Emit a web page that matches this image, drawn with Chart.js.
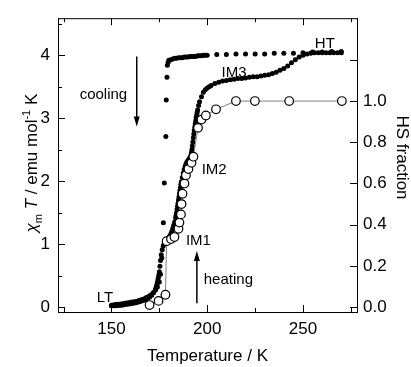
<!DOCTYPE html>
<html>
<head>
<meta charset="utf-8">
<script src="https://cdn.jsdelivr.net/npm/chart.js@4.4.0/dist/chart.umd.min.js"></script>
<style>
  html, body { margin: 0; padding: 0; background: #fff; }
</style>
</head>
<body>
<canvas id="chart" width="411" height="367"></canvas>
<script>
(() => {

/* ---------- DATA ---------- */

// heating branch, chi_m*T (filled dots)
const heatT = [
  150, 151, 152, 153, 154, 155, 156, 157, 158, 159,
  160, 161, 162, 163, 164, 165, 166, 167, 168, 169,
  170, 171, 172, 173, 173.25, 173.5, 173.75, 174, 174.25, 174.5, 174.75, 175, 175.3, 175.6,
  176, 176.5, 177, 177.5, 178, 178.5, 179, 179.5, 180, 180.5,
  181, 181.5, 182, 182.5, 183, 183.5, 183.75, 184, 184.25, 184.5, 184.75, 185, 185.25, 185.5, 185.75,
  186, 186.25, 186.5, 187, 187.5, 188, 188.5, 189, 189.5, 190, 190.5,
  191, 191.5, 191.75, 192, 192.25, 192.5, 192.75, 193, 193.25, 193.5, 193.75, 194, 194.25, 194.5, 194.75, 195, 195.5,
  196, 197, 198, 199, 200, 201, 202, 204, 206, 208,
  210, 212, 214, 216, 218, 220, 222, 224, 226, 228,
  230, 232, 234, 236, 238, 240, 242, 244, 246, 248,
  250, 252, 254, 256, 258, 260, 262, 264, 266, 268, 270
];
const heatChi = [
  0.02, 0.02, 0.02, 0.025, 0.03, 0.03, 0.035, 0.04, 0.045, 0.05,
  0.055, 0.06, 0.065, 0.07, 0.08, 0.09, 0.10, 0.11, 0.12, 0.14,
  0.16, 0.19, 0.23, 0.28, 0.30, 0.33, 0.36, 0.39, 0.43, 0.47, 0.51, 0.56, 0.65, 0.74,
  0.83, 0.91, 0.97, 1.00, 1.03, 1.05, 1.07, 1.09, 1.11, 1.13,
  1.16, 1.20, 1.25, 1.30, 1.35, 1.42, 1.46, 1.50, 1.55, 1.60, 1.65, 1.70, 1.75, 1.80, 1.85,
  1.90, 1.95, 1.99, 2.06, 2.13, 2.19, 2.24, 2.28, 2.31, 2.33, 2.35,
  2.37, 2.41, 2.45, 2.50, 2.56, 2.62, 2.69, 2.75, 2.81, 2.86, 2.91, 2.96, 3.01, 3.05, 3.09, 3.13, 3.20,
  3.26, 3.34, 3.41, 3.45, 3.48, 3.50, 3.52, 3.55, 3.57, 3.59,
  3.60, 3.61, 3.62, 3.63, 3.63, 3.64, 3.65, 3.66, 3.66, 3.67,
  3.68, 3.69, 3.71, 3.73, 3.76, 3.79, 3.83, 3.88, 3.93, 3.97,
  4.00, 4.02, 4.03, 4.04, 4.04, 4.04, 4.04, 4.04, 4.04, 4.04, 4.04
];

// cooling branch, chi_m*T (filled dots)
const coolT = [
  270, 265, 260, 255, 250, 245, 240, 235, 230, 225, 220, 215, 210, 205,
  200, 199, 198, 197, 196, 195, 194, 193, 192, 191,
  190, 189, 188, 187, 186, 185, 184, 183, 182, 181,
  180, 179.6, 179.2, 179.0, 178.6, 178.4, 177.6, 177.1, 176.3, 175.6,
  175, 174, 173, 172, 171, 170, 169, 168, 167, 166,
  165, 164, 163, 162, 161, 160, 159, 158, 157, 156,
  155, 154, 153, 152, 151, 150
];
const coolChi = [
  4.06, 4.06, 4.05, 4.05, 4.04, 4.03, 4.03, 4.03, 4.02, 4.02, 4.02, 4.02, 4.01, 4.01,
  4.00, 4.00, 4.00, 3.99, 3.99, 3.99, 3.98, 3.98, 3.98, 3.98,
  3.97, 3.97, 3.97, 3.96, 3.96, 3.96, 3.95, 3.95, 3.94, 3.93,
  3.92, 3.89, 3.84, 3.65, 3.29, 2.71, 1.97, 1.34, 0.78, 0.52,
  0.40, 0.32, 0.27, 0.23, 0.20, 0.18, 0.16, 0.15, 0.13, 0.12,
  0.11, 0.10, 0.09, 0.085, 0.08, 0.075, 0.07, 0.065, 0.06, 0.055,
  0.05, 0.045, 0.04, 0.04, 0.035, 0.03
];

// HS fraction (open circles, right axis)
const hsT = [
  169.9, 174.6, 178.2, 178.8, 181.1, 182.9, 185.0, 185.5, 186.3, 186.6,
  187.1, 188.1, 188.9, 190.2, 191.8, 192.8, 195.2, 197.0, 199.3, 204.6,
  215.0, 224.9, 242.8, 270.3
];
const hsFrac = [
  0.01, 0.03, 0.06, 0.32, 0.33, 0.34, 0.38, 0.41, 0.45, 0.50,
  0.55, 0.60, 0.64, 0.67, 0.70, 0.73, 0.87, 0.91, 0.93, 0.96,
  1.0, 1.0, 1.0, 1.0
];

const xMajor = [150, 200, 250];
const xMinor = [125, 175, 225, 275];
const yMajor = [0, 1, 2, 3, 4];
const yMinor = [0.5, 1.5, 2.5, 3.5, 4.5];
const hsTicks = [0, 0.2, 0.4, 0.6, 0.8, 1.0];
const hsMarks = [0, 0.2, 0.4, 0.6, 0.8, 1.0, 1.2];

const HS_FULL = 3.272;           // chi_m*T that equals HS fraction 1.0
const X_MIN = 122.1, X_MAX = 278.2;
const Y_MIN = -0.078, Y_MAX = 4.588;

const FONT = '"Liberation Sans", Arial, Helvetica, sans-serif';

/* ---------- ANNOTATIONS ---------- */

const notes = [
  { text: "cooling", x: 133.4, y: 3.305 },
  { text: "heating", x: 198.2, y: 0.36 },
  { text: "IM1", x: 188.9, y: 0.994 },
  { text: "IM2", x: 197.1, y: 2.111 },
  { text: "IM3", x: 207.5, y: 3.66 },
  { text: "HT", x: 256.2, y: 4.11 },
  { text: "LT", x: 142.3, y: 0.086 }
];
const arrows = [
  { x: 163.2, from: 3.98, to: 2.87 },   // cooling, pointing down
  { x: 194.6, from: 0.06, to: 0.89 }    // heating, pointing up
];

const pts = (xs, ys) => xs.map((x, i) => ({ x, y: ys[i] }));

/* ---------- PLUGIN: frame, inward ticks, labels ---------- */

const decor = {
  id: "decor",
  afterDraw(chart) {
    const { ctx, chartArea: a, scales } = chart;
    const xs = scales.x, ys = scales.y, hs = scales.y2;
    ctx.save();
    ctx.strokeStyle = "#000";
    ctx.lineWidth = 1;

    // top frame line
    ctx.beginPath();
    ctx.moveTo(a.left, a.top + 0.5);
    ctx.lineTo(a.right, a.top + 0.5);
    ctx.stroke();

    const tick = (x1, y1, x2, y2) => {
      ctx.beginPath();
      ctx.moveTo(x1, y1);
      ctx.lineTo(x2, y2);
      ctx.stroke();
    };

    // x ticks, bottom and top, inward
    xMajor.concat(xMinor).forEach(v => {
      const len = xMajor.includes(v) ? 7 : 4;
      const px = Math.round(xs.getPixelForValue(v)) + 0.5;
      tick(px, a.bottom, px, a.bottom - len);
      tick(px, a.top, px, a.top + len);
    });

    // left y ticks
    yMajor.concat(yMinor).forEach(v => {
      const len = yMajor.includes(v) ? 7 : 4;
      const py = Math.round(ys.getPixelForValue(v)) + 0.5;
      tick(a.left, py, a.left + len, py);
    });

    // right HS ticks
    hsMarks.forEach(v => {
      const py = Math.round(hs.getPixelForValue(v)) + 0.5;
      tick(a.right, py, a.right - 7, py);
    });

    // arrows
    ctx.fillStyle = "#000";
    ctx.lineWidth = 1.5;
    arrows.forEach(ar => {
      const px = xs.getPixelForValue(ar.x);
      const y1 = ys.getPixelForValue(ar.from);
      const y2 = ys.getPixelForValue(ar.to);
      const dir = y2 > y1 ? 1 : -1;
      tick(px, y1, px, y2 - dir * 8);
      ctx.beginPath();
      ctx.moveTo(px, y2);
      ctx.lineTo(px - 3, y2 - dir * 10);
      ctx.lineTo(px + 3, y2 - dir * 10);
      ctx.closePath();
      ctx.fill();
    });

    // text labels inside the plot
    ctx.font = "15px " + FONT;
    ctx.textAlign = "left";
    ctx.textBaseline = "alphabetic";
    notes.forEach(n => {
      ctx.fillText(n.text, xs.getPixelForValue(n.x), ys.getPixelForValue(n.y));
    });

    // left axis title: chi_m T / emu mol^-1 K
    const parts = [
      { t: "\u03C7", style: "italic ", size: 17, dy: 0 },
      { t: "m", style: "", size: 11, dy: 5 },
      { t: " ", style: "", size: 17, dy: 0 },
      { t: "T", style: "italic ", size: 17, dy: 0 },
      { t: " / emu mol", style: "", size: 17, dy: 0 },
      { t: "-1", style: "", size: 11, dy: -7 },
      { t: " K", style: "", size: 17, dy: 0 }
    ];
    let total = 0;
    parts.forEach(p => {
      ctx.font = p.style + p.size + "px " + FONT;
      p.w = ctx.measureText(p.t).width;
      total += p.w;
    });
    ctx.save();
    ctx.translate(37, (a.top + a.bottom) / 2 - 2);
    ctx.rotate(-Math.PI / 2);
    let cx = -total / 2;
    parts.forEach(p => {
      ctx.font = p.style + p.size + "px " + FONT;
      ctx.fillText(p.t, cx, p.dy);
      cx += p.w;
    });
    ctx.restore();

    // right axis title
    ctx.save();
    ctx.font = "17px " + FONT;
    ctx.textAlign = "center";
    ctx.translate(397, 157.5);
    ctx.rotate(Math.PI / 2);
    ctx.fillText("HS fraction", 0, 0);
    ctx.restore();

    ctx.restore();
  }
};

/* ---------- CHART ---------- */

const tickFont = { family: FONT, size: 17 };

new Chart(document.getElementById("chart"), {
  type: "scatter",
  data: {
    datasets: [
      {
        label: "HS fraction",
        data: pts(hsT, hsFrac),
        yAxisID: "y2",
        showLine: true,
        tension: 0,
        borderColor: "#808080",
        borderWidth: 1,
        pointRadius: 4.3,
        pointBackgroundColor: "#fff",
        pointBorderColor: "#000",
        pointBorderWidth: 1.2
      },
      {
        label: "heating",
        data: pts(heatT, heatChi),
        yAxisID: "y",
        pointRadius: 2.5,
        pointBackgroundColor: "#000",
        pointBorderWidth: 0
      },
      {
        label: "cooling",
        data: pts(coolT, coolChi),
        yAxisID: "y",
        pointRadius: 2.5,
        pointBackgroundColor: "#000",
        pointBorderWidth: 0
      }
    ]
  },
  options: {
    responsive: false,
    animation: false,
    layout: { padding: { top: 13, left: 0, right: 0, bottom: 0 } },
    plugins: {
      legend: { display: false },
      tooltip: { enabled: false }
    },
    scales: {
      x: {
        type: "linear",
        position: "bottom",
        min: X_MIN,
        max: X_MAX,
        afterBuildTicks: s => { s.ticks = xMajor.map(v => ({ value: v })); },
        afterFit: s => { s.height = 55; },
        grid: { display: false, drawTicks: false },
        border: { display: true, color: "#000", width: 1 },
        ticks: { color: "#000", font: tickFont, padding: 7, maxRotation: 0 },
        title: {
          display: true,
          text: "Temperature / K",
          color: "#000",
          font: { family: FONT, size: 17 },
          padding: 0
        }
      },
      y: {
        type: "linear",
        position: "left",
        min: Y_MIN,
        max: Y_MAX,
        afterBuildTicks: s => { s.ticks = yMajor.map(v => ({ value: v })); },
        afterFit: s => { s.width = 58; },
        grid: { display: false, drawTicks: false },
        border: { display: true, color: "#000", width: 1 },
        ticks: { color: "#000", font: tickFont, padding: 8 }
      },
      y2: {
        type: "linear",
        position: "right",
        min: Y_MIN / HS_FULL,
        max: Y_MAX / HS_FULL,
        afterBuildTicks: s => { s.ticks = hsTicks.map(v => ({ value: v })); },
        afterFit: s => { s.width = 54; },
        grid: { display: false, drawTicks: false },
        border: { display: true, color: "#000", width: 1 },
        ticks: { color: "#000", font: tickFont, padding: 6, callback: v => v.toFixed(1) }
      }
    }
  },
  plugins: [decor]
});

})();
</script>
</body>
</html>
